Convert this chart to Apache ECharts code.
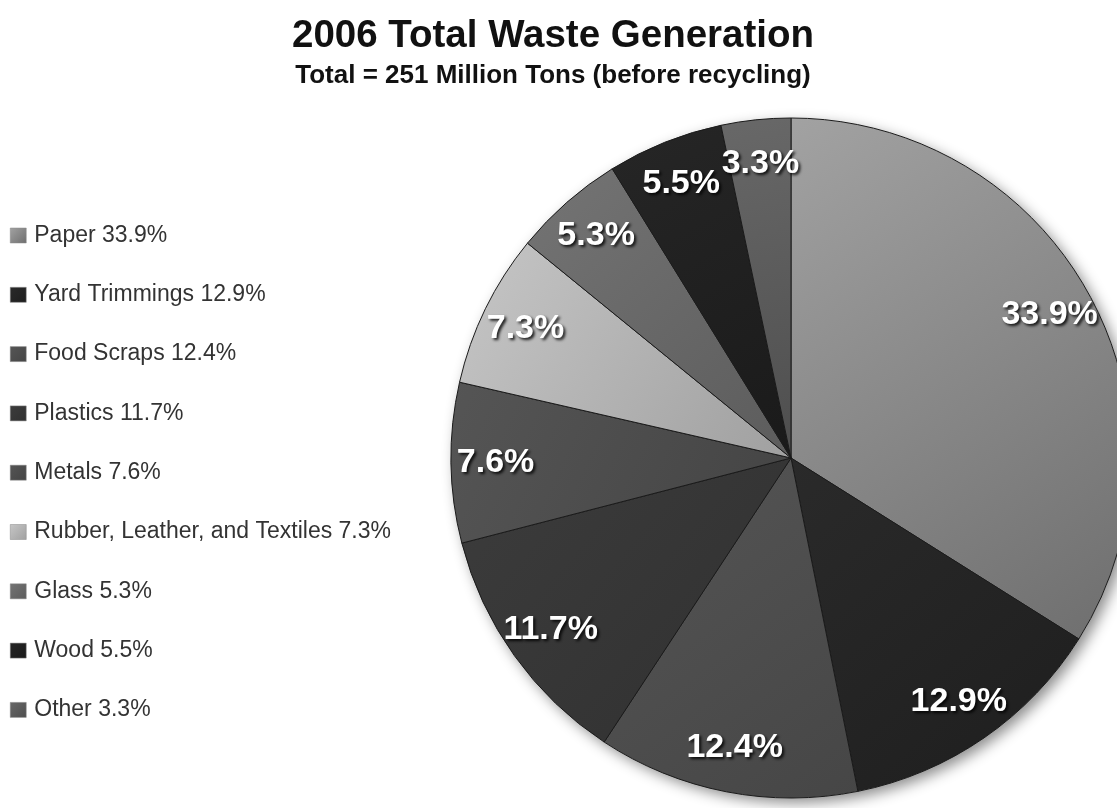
<!DOCTYPE html>
<html>
<head>
<meta charset="utf-8">
<script src="https://cdn.jsdelivr.net/npm/echarts@6/dist/echarts.min.js"></script>
<style>
html,body{margin:0;padding:0;background:#fff;}
#chart{width:1117px;height:808px;}
</style>
</head>
<body>
<div id="chart"></div>
<script>
const categories = ['Paper', 'Yard Trimmings', 'Food Scraps', 'Plastics', 'Metals', 'Rubber, Leather, and Textiles', 'Glass', 'Wood', 'Other'];
const percents = [33.9, 12.9, 12.4, 11.7, 7.6, 7.3, 5.3, 5.5, 3.3];
const titleText = '2006 Total Waste Generation';
const subtitleText = 'Total = 251 Million Tons (before recycling)';

const sliceLight = ['#a2a2a2', '#2a2a2a', '#555555', '#3c3c3c', '#555555', '#c6c6c6', '#747474', '#262626', '#686868'];
const sliceDark  = ['#6e6e6e', '#1e1e1e', '#464646', '#303030', '#444444', '#a0a0a0', '#5c5c5c', '#1a1a1a', '#4e4e4e'];

function grad(i) {
  return new echarts.graphic.LinearGradient(0, 0, 1, 1, [
    { offset: 0, color: sliceLight[i] },
    { offset: 1, color: sliceDark[i] }
  ]);
}

const total = percents.reduce((a, b) => a + b, 0);
const center = [791, 458];

const chart = echarts.init(document.getElementById('chart'));
chart.setOption({
  animation: false,
  backgroundColor: '#ffffff',
  title: {
    text: titleText,
    subtext: subtitleText,
    left: 548,
    textAlign: 'center',
    top: 12,
    itemGap: 7,
    textStyle: { fontFamily: 'Liberation Sans, Arial', fontWeight: 'bold', fontSize: 38.5, color: '#111' },
    subtextStyle: { fontFamily: 'Liberation Sans, Arial', fontWeight: 'bold', fontSize: 26, color: '#111' }
  },
  legend: {
    orient: 'vertical',
    left: 5,
    top: 219,
    itemWidth: 16,
    itemHeight: 15,
    itemGap: 36.3,
    icon: 'rect',
    selectedMode: false,
    data: categories.map((c, i) => ({
      name: c,
      itemStyle: { color: grad(i), borderColor: '#888', borderWidth: 0.5 }
    })),
    formatter: function (name) {
      const i = categories.indexOf(name);
      return name + ' ' + percents[i] + '%';
    },
    textStyle: { fontFamily: 'Liberation Sans, Arial', fontSize: 23, color: '#333', lineHeight: 23, padding: [0, 0, 0, 3] }
  },
  series: [
    {
      type: 'pie',
      name: 'shadow',
      silent: true,
      center: center,
      radius: [0, 340],
      label: { show: false },
      labelLine: { show: false },
      itemStyle: { color: '#ffffff', shadowBlur: 14, shadowColor: 'rgba(0,0,0,0.45)', shadowOffsetX: 5, shadowOffsetY: 5 },
      data: [{ name: '_total', value: total }]
    },
    {
      type: 'pie',
      name: 'Waste',
      center: center,
      radius: [0, 340],
      startAngle: 90,
      clockwise: true,
      silent: true,
      label: { show: false },
      labelLine: { show: false },
      itemStyle: { borderColor: '#1a1a1a', borderWidth: 1 },
      data: categories.map((c, i) => ({ name: c, value: percents[i], itemStyle: { color: grad(i) } }))
    },
    {
      type: 'pie',
      name: 'labels',
      center: center,
      radius: [245, 340],
      startAngle: 90,
      clockwise: true,
      silent: true,
      avoidLabelOverlap: false,
      labelLayout: { hideOverlap: false },
      itemStyle: { color: 'rgba(0,0,0,0)' },
      label: {
        show: true,
        position: 'inside',
        formatter: function (p) { return p.value.toFixed(1) + '%'; },
        fontFamily: 'Liberation Sans, Arial',
        fontWeight: 'bold',
        fontSize: 34,
        color: '#ffffff',
        textShadowColor: 'rgba(0,0,0,0.85)',
        textShadowBlur: 3,
        textShadowOffsetX: 2,
        textShadowOffsetY: 2
      },
      labelLine: { show: false },
      data: categories.map((c, i) => ({ name: c, value: percents[i] }))
    }
  ]
});
</script>
</body>
</html>
